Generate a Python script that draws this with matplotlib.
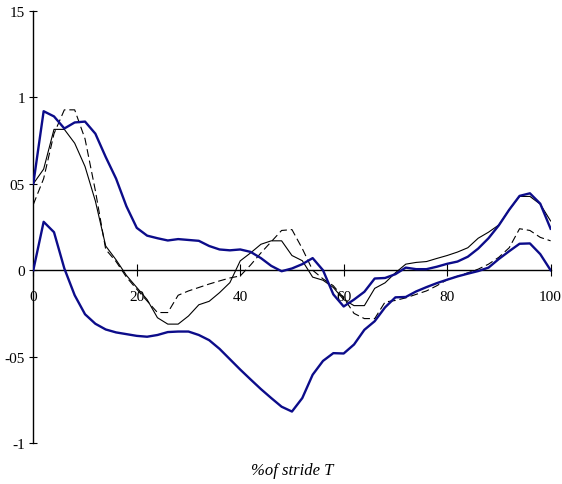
import matplotlib
matplotlib.use("Agg")
import matplotlib.pyplot as plt
import numpy as np

plt.rcParams['font.family'] = ['Liberation Serif', 'DejaVu Serif']

stride = list(range(0, 101, 2))

blue_upper = [0.50, 0.92, 0.89, 0.82, 0.855, 0.86, 0.79, 0.655, 0.53, 0.37,
              0.245, 0.20, 0.185, 0.172, 0.18, 0.175, 0.17, 0.14, 0.12, 0.115,
              0.12, 0.106, 0.07, 0.025, -0.006, 0.01, 0.035, 0.07, 0.0, -0.14,
              -0.21, -0.17, -0.125, -0.048, -0.045, -0.023, 0.015, 0.006, 0.006, 0.02,
              0.037, 0.05, 0.078, 0.125, 0.185, 0.26, 0.35, 0.43, 0.445, 0.385, 0.24]

blue_lower = [0.0, 0.28, 0.22, 0.01, -0.145, -0.255, -0.31, -0.343, -0.36, -0.37,
              -0.38, -0.385, -0.375, -0.358, -0.355, -0.355, -0.375, -0.405, -0.455, -0.515,
              -0.575, -0.632, -0.688, -0.74, -0.79, -0.818, -0.74, -0.605, -0.525, -0.48,
              -0.482, -0.43, -0.345, -0.295, -0.215, -0.157, -0.155, -0.123, -0.098, -0.075,
              -0.055, -0.036, -0.02, -0.005, 0.015, 0.065, 0.11, 0.153, 0.155, 0.093, 0.0]

black_solid = [0.50, 0.585, 0.815, 0.815, 0.735, 0.60, 0.40, 0.14, 0.06, -0.03,
               -0.10, -0.17, -0.275, -0.312, -0.312, -0.265, -0.20, -0.18, -0.13, -0.072,
               0.054, 0.10, 0.15, 0.17, 0.17, 0.085, 0.055, -0.04, -0.058, -0.10,
               -0.17, -0.205, -0.205, -0.105, -0.073, -0.015, 0.035, 0.045, 0.05, 0.068,
               0.085, 0.105, 0.13, 0.185, 0.22, 0.262, 0.35, 0.427, 0.427, 0.382, 0.285]

black_dashed = [0.38, 0.53, 0.79, 0.928, 0.928, 0.76, 0.46, 0.12, 0.05, -0.04,
                -0.11, -0.178, -0.245, -0.245, -0.145, -0.12, -0.10, -0.08, -0.062, -0.045,
                -0.033, 0.03, 0.10, 0.165, 0.23, 0.235, 0.125, 0.0, -0.05, -0.09,
                -0.16, -0.25, -0.28, -0.28, -0.184, -0.175, -0.16, -0.14, -0.12, -0.09,
                -0.055, -0.035, -0.015, 0.006, 0.035, 0.075, 0.13, 0.24, 0.23, 0.19, 0.17]

x_ticks = [0, 20, 40, 60, 80, 100]
y_ticks = [1.5, 1, 0.5, 0, -0.5, -1]
y_tick_labels = ['15', '1', '05', '0', '-05', '-1']
x_label = '%of stride T'

fig = plt.figure(figsize=(5.62, 4.85), dpi=100)
ax = fig.add_axes([33.3 / 562, 41 / 485, (550.6 - 33.3) / 562, (444 - 12) / 485])

navy = '#0c0c8a'
ax.plot(stride, blue_upper, color=navy, lw=1.7, zorder=4)
ax.plot(stride, blue_lower, color=navy, lw=1.7, zorder=4)
ax.plot(stride, black_solid, color='black', lw=0.8, zorder=3)
ax.plot(stride, black_dashed, color='black', lw=0.8, dashes=(7, 3.5), zorder=3)

ax.set_xlim(0, 100)
ax.set_ylim(-1, 1.5)
ax.spines['top'].set_visible(False)
ax.spines['right'].set_visible(False)
ax.spines['bottom'].set_position(('data', 0))
ax.spines['left'].set_linewidth(1.0)
ax.spines['bottom'].set_linewidth(1.0)

ax.set_xticks(x_ticks)
ax.set_xticklabels([str(v) for v in x_ticks])
ax.set_yticks(y_ticks)
ax.set_yticklabels(y_tick_labels)
ax.tick_params(axis='x', direction='inout', length=8, width=0.8, pad=10, labelsize=11)
ax.tick_params(axis='y', direction='inout', length=6, width=0.8, pad=3, labelsize=11)

fig.text(292 / 562, 1 - 471 / 485, x_label, ha='center', va='center',
         fontsize=12, style='italic')

fig.savefig('out.png', dpi=100)
